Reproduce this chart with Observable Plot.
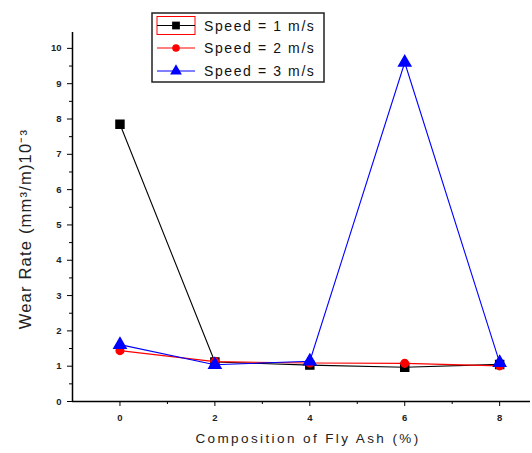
<!DOCTYPE html>
<html><head><meta charset="utf-8">
<script src="https://cdn.jsdelivr.net/npm/d3@7"></script>
<script src="https://cdn.jsdelivr.net/npm/@observablehq/plot@0.6"></script>
<style>
body{margin:0;background:#fff;}
#chart{position:relative;width:532px;height:453px;}
</style>
</head><body><div id="chart"></div>
<script>
const flyAsh = [0, 2, 4, 6, 8];
const speed1 = [7.85, 1.12, 1.03, 0.97, 1.05];
const speed2 = [1.44, 1.13, 1.09, 1.08, 1.01];
const speed3 = [1.61, 1.04, 1.14, 9.6, 1.10];
const seriesNames = ["Speed = 1 m/s", "Speed = 2 m/s", "Speed = 3 m/s"];
const seriesColors = ["#000000", "#ff0000", "#0000ff"];
const seriesSymbols = ["square", "circle", "triangle"];
const yMajor = [0,1,2,3,4,5,6,7,8,9,10];
const yMinor = [0.5,1.5,2.5,3.5,4.5,5.5,6.5,7.5,8.5,9.5];
const xMajor = [0,2,4,6,8];
const xMinor = [1,3,5,7];

const allSeries = [speed1, speed2, speed3];
const rows = [];
allSeries.forEach((vals, si) => vals.forEach((v, i) => rows.push({x: flyAsh[i], y: v, s: seriesNames[si]})));

const font = "Liberation Sans, Arial, sans-serif";
const marks = [];
seriesNames.forEach((name, si) => {
  const d = rows.filter(r => r.s === name);
  marks.push(Plot.line(d, {x: "x", y: "y", stroke: seriesColors[si], strokeWidth: 1.1}));
  marks.push(Plot.dot(d, {x: "x", y: "y", fill: seriesColors[si], stroke: seriesColors[si], symbol: () => seriesSymbols[si], r: si === 1 ? 3.8 : 4.5}));
});

const plot = Plot.plot({
  width: 532, height: 453,
  marginLeft: 72, marginTop: 32, marginBottom: 52, marginRight: 2,
  style: {fontFamily: font, background: "#fff", overflow: "visible"},
  x: {domain: [-1, 8.65]},
  y: {domain: [0, 10.45]},
  marks: [
    Plot.axisY({ticks: yMajor, tickSize: 5, tickPadding: 6, fontSize: 9.5, fontWeight: "bold", tickFormat: d => d, label: null, stroke: "#000", fill: "#222"}),
    Plot.axisY({ticks: yMinor, tickSize: 3, tickFormat: null, label: null, text: null}),
    Plot.axisX({ticks: xMajor, tickSize: 5, tickPadding: 8, fontSize: 9.5, fontWeight: "bold", tickFormat: d => d, label: null, fill: "#222"}),
    Plot.axisX({ticks: xMinor, tickSize: 3, label: null, text: null}),
    Plot.ruleX([-1], {stroke: "#000", strokeWidth: 1.5}),
    Plot.ruleY([0], {stroke: "#000", strokeWidth: 1.5}),
    ...marks
  ]
});
document.getElementById("chart").appendChild(plot);

const svg = d3.select(plot);
// Axis titles
svg.append("text").attr("x", 308).attr("y", 443).attr("text-anchor", "middle")
  .attr("font-size", 13.5).attr("letter-spacing", "2.4px").attr("fill", "#222").attr("font-family", font)
  .text("Composition of Fly Ash (%)");
svg.append("text").attr("transform", "translate(31,229) rotate(-90)").attr("text-anchor", "middle")
  .attr("font-size", 16.5).attr("letter-spacing", "1.2px").attr("fill", "#222").attr("font-family", font)
  .text("Wear Rate (mm³/m)10⁻³");

// Legend
const lg = svg.append("g").attr("font-family", font).attr("text-anchor", "start");
lg.append("rect").attr("x", 152).attr("y", 13).attr("width", 172).attr("height", 69)
  .attr("fill", "#fff").attr("stroke", "#222").attr("stroke-width", 1.5);
lg.append("rect").attr("x", 157).attr("y", 16.5).attr("width", 38).attr("height", 18)
  .attr("fill", "none").attr("stroke", "#ff0000").attr("stroke-width", 1);
const ly = [25.5, 48, 71];
const sym = [d3.symbolSquare, d3.symbolCircle, d3.symbolTriangle];
seriesNames.forEach((name, i) => {
  lg.append("line").attr("x1", 157).attr("x2", 195).attr("y1", ly[i]).attr("y2", ly[i])
    .attr("stroke", seriesColors[i]).attr("stroke-width", 1.2);
  lg.append("path").attr("transform", `translate(176,${ly[i]})`)
    .attr("d", d3.symbol(sym[i], i === 1 ? 45 : 60)()).attr("fill", seriesColors[i]);
  lg.append("text").attr("x", 204).attr("y", ly[i] + 5).attr("font-size", 14)
    .attr("letter-spacing", "1.6px").attr("fill", "#111").attr("text-anchor", "start").text(name);
});
</script>
</body></html>
